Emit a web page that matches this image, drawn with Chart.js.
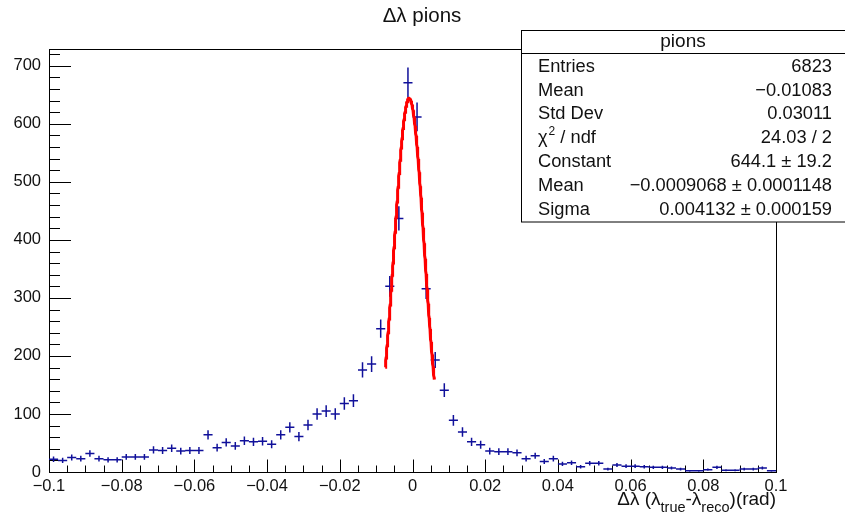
<!DOCTYPE html>
<html>
<head>
<meta charset="utf-8">
<script src="https://cdn.jsdelivr.net/npm/chart.js@4/dist/chart.umd.min.js"></script>
<style>
  html, body { margin: 0; padding: 0; background: #fff; }
  canvas { display: block; }
</style>
</head>
<body>
<canvas id="c" width="845" height="520"></canvas>
<script>
// Histogram binning: 80 bins on [-0.1, 0.1]
const binLow = -0.1;
const binHigh = 0.1;
const nBins = 80;

// Bin contents (entries per bin)
const counts = [
  22, 20, 25, 23, 32, 23, 21, 21, 26, 26,
  26, 38, 37, 41, 36, 37, 37, 64, 42, 51,
  45, 54, 52, 53, 48, 64, 77, 61, 81, 100,
  105, 100, 118, 123, 176, 186, 247, 320, 437, 671,
  612, 316, 193, 141, 89, 69, 52, 47, 36, 35,
  35, 33, 23, 28, 18, 23, 14, 16, 9, 15,
  15, 5, 12, 10, 10, 9, 8, 8, 7, 5,
  2, 2, 4, 8, 3, 3, 5, 5, 7, 2
];

// Gaussian fit parameters and the range it was fitted over
const fitConstant = 644.1;
const fitMean = -0.0009068;
const fitSigma = 0.004132;
const fitRange = [-0.0075, 0.006];

// Axis ticks
const xTickValues = [-0.1, -0.08, -0.06, -0.04, -0.02, 0, 0.02, 0.04, 0.06, 0.08, 0.1];
const xTickLabels = ['\u22120.1', '\u22120.08', '\u22120.06', '\u22120.04', '\u22120.02', '0', '0.02', '0.04', '0.06', '0.08', '0.1'];
const yTickValues = [0, 100, 200, 300, 400, 500, 600, 700];
const yMax = 729;

// Statistics box
const statTitle = 'pions';
const statLabels = ['Entries', 'Mean', 'Std Dev', 'CHI2', 'Constant', 'Mean', 'Sigma'];
const statValues = ['6823', '\u22120.01083', '0.03011', '24.03 / 2', '644.1 \u00b1 19.2',
                    '\u22120.0009068 \u00b1 0.0001148', '0.004132 \u00b1 0.000159'];

const chartTitle = '\u0394\u03bb pions';

const FONT = '"Liberation Sans", Arial, Helvetica, sans-serif';
const MARK = '#10109a';
const TEXT = '#111';

const binWidth = (binHigh - binLow) / nBins;
const histPoints = counts.map((n, i) => ({ x: binLow + (i + 0.5) * binWidth, y: n }));

// Fitted gaussian sampled across the fit range
const fitPoints = [];
const nFit = 240;
for (let k = 0; k <= nFit; k++) {
  const xv = fitRange[0] + (fitRange[1] - fitRange[0]) * k / nFit;
  const z = (xv - fitMean) / fitSigma;
  fitPoints.push({ x: xv, y: fitConstant * Math.exp(-0.5 * z * z) });
}

// Frame, inward tick marks and error-bar crosses in the ROOT style
const rootStyle = {
  id: 'rootStyle',
  beforeDatasetsDraw(chart) {
    const { ctx, chartArea: a, scales: { x, y } } = chart;
    ctx.save();
    ctx.strokeStyle = '#000';
    ctx.lineWidth = 1;
    ctx.strokeRect(a.left + 0.5, a.top + 0.5, a.right - a.left, a.bottom - a.top);

    // y ticks: major every 100, minor every 20
    const yMajLen = 22, yMinLen = 11;
    ctx.beginPath();
    for (let v = 0; v <= yMax; v += 20) {
      const py = Math.round(y.getPixelForValue(v)) + 0.5;
      const len = (v % 100 === 0) ? yMajLen : yMinLen;
      ctx.moveTo(a.left, py);
      ctx.lineTo(a.left + len, py);
    }
    // x ticks: major every 0.02, minor every 0.005
    const xMajLen = 12.5, xMinLen = 6.5;
    for (let k = 0; k <= 40; k++) {
      const v = binLow + k * 0.005;
      const px = Math.round(x.getPixelForValue(v)) + 0.5;
      const len = (k % 4 === 0) ? xMajLen : xMinLen;
      ctx.moveTo(px, a.bottom);
      ctx.lineTo(px, a.bottom - len);
    }
    ctx.stroke();

    // histogram: horizontal bar over the bin, vertical bar of +-sqrt(N)
    const meta = chart.getDatasetMeta(0);
    ctx.strokeStyle = MARK;
    ctx.lineWidth = 1.5;
    ctx.beginPath();
    meta.data.forEach((pt, i) => {
      const n = counts[i];
      const c = histPoints[i].x;
      const xl = x.getPixelForValue(c - binWidth / 2);
      const xr = x.getPixelForValue(c + binWidth / 2);
      const e = Math.sqrt(n);
      ctx.moveTo(xl, pt.y);
      ctx.lineTo(xr, pt.y);
      ctx.moveTo(pt.x, y.getPixelForValue(n + e));
      ctx.lineTo(pt.x, y.getPixelForValue(Math.max(0, n - e)));
    });
    ctx.stroke();
    ctx.restore();
  },
  afterDraw(chart) {
    const { ctx } = chart;
    ctx.save();
    ctx.fillStyle = TEXT;

    // main title
    ctx.font = '20.5px ' + FONT;
    ctx.textAlign = 'center';
    ctx.textBaseline = 'middle';
    ctx.fillText(chartTitle, 422, 16);

    // x axis title with subscripts, right aligned to the frame edge
    const parts = [
      { t: '\u0394\u03bb (\u03bb', sub: false },
      { t: 'true', sub: true },
      { t: '-\u03bb', sub: false },
      { t: 'reco', sub: true },
      { t: ')(rad)', sub: false }
    ];
    const mainFont = '19px ' + FONT, subFont = '14.5px ' + FONT;
    let total = 0;
    parts.forEach(p => { ctx.font = p.sub ? subFont : mainFont; p.w = ctx.measureText(p.t).width; total += p.w; });
    let cx = chart.chartArea.right - total;
    ctx.textAlign = 'left';
    ctx.textBaseline = 'alphabetic';
    parts.forEach(p => {
      ctx.font = p.sub ? subFont : mainFont;
      ctx.fillText(p.t, cx, p.sub ? 512 : 505);
      cx += p.w;
    });

    // statistics box
    const bx = 521.5, by = 30.5, bw = 330, bh = 191.5;
    ctx.fillStyle = '#fff';
    ctx.fillRect(bx, by, bw, bh);
    ctx.strokeStyle = '#000';
    ctx.lineWidth = 1;
    ctx.strokeRect(bx, by, bw, bh);
    ctx.beginPath();
    ctx.moveTo(bx, 53.5);
    ctx.lineTo(bx + bw, 53.5);
    ctx.stroke();

    ctx.fillStyle = TEXT;
    ctx.font = '19px ' + FONT;
    ctx.textAlign = 'center';
    ctx.textBaseline = 'middle';
    ctx.fillText(statTitle, 683, 42);

    const rowY = [67, 90.5, 114, 137.5, 162, 186, 209.5];
    const rowFont = '18.3px ' + FONT;
    statLabels.forEach((lab, i) => {
      ctx.font = rowFont;
      ctx.textAlign = 'left';
      if (lab === 'CHI2') {
        let lx = 538;
        ctx.fillText('\u03c7', lx, rowY[i]);
        lx += ctx.measureText('\u03c7').width + 1;
        ctx.font = '12px ' + FONT;
        ctx.fillText('2', lx, rowY[i] - 6);
        lx += ctx.measureText('2').width;
        ctx.font = rowFont;
        ctx.fillText(' / ndf', lx, rowY[i]);
      } else {
        ctx.fillText(lab, 538, rowY[i]);
      }
      ctx.textAlign = 'right';
      ctx.fillText(statValues[i], 832, rowY[i]);
    });
    ctx.restore();
  }
};

new Chart(document.getElementById('c'), {
  type: 'scatter',
  data: {
    datasets: [
      {
        label: 'pions',
        data: histPoints,
        pointRadius: 0,
        pointHoverRadius: 0,
        showLine: false
      },
      {
        label: 'gaus',
        data: fitPoints,
        showLine: true,
        borderColor: '#ff0000',
        borderWidth: 3,
        pointRadius: 0,
        fill: false,
        tension: 0
      }
    ]
  },
  options: {
    responsive: false,
    devicePixelRatio: 1,
    animation: false,
    events: [],
    layout: { padding: { top: 49, right: 69, left: 0, bottom: 0 } },
    plugins: { legend: { display: false }, title: { display: false }, tooltip: { enabled: false } },
    scales: {
      x: {
        type: 'linear',
        min: binLow,
        max: binHigh,
        grid: { display: false, drawTicks: false },
        border: { display: false },
        afterFit(s) { s.height = 48; },
        afterBuildTicks(s) { s.ticks = xTickValues.map(v => ({ value: v })); },
        ticks: {
          autoSkip: false,
          maxRotation: 0,
          padding: 5,
          color: TEXT,
          font: { family: FONT, size: 16.5 },
          callback(v) {
            const i = xTickValues.findIndex(t => Math.abs(t - v) < 1e-9);
            return i >= 0 ? xTickLabels[i] : '';
          }
        }
      },
      y: {
        type: 'linear',
        min: 0,
        max: yMax,
        grid: { display: false, drawTicks: false },
        border: { display: false },
        afterFit(s) { s.width = 49; },
        afterBuildTicks(s) { s.ticks = yTickValues.map(v => ({ value: v })); },
        ticks: {
          autoSkip: false,
          padding: 8,
          color: TEXT,
          font: { family: FONT, size: 16.5 },
          callback(v) { return String(v); }
        }
      }
    }
  },
  plugins: [rootStyle]
});
</script>
</body>
</html>
